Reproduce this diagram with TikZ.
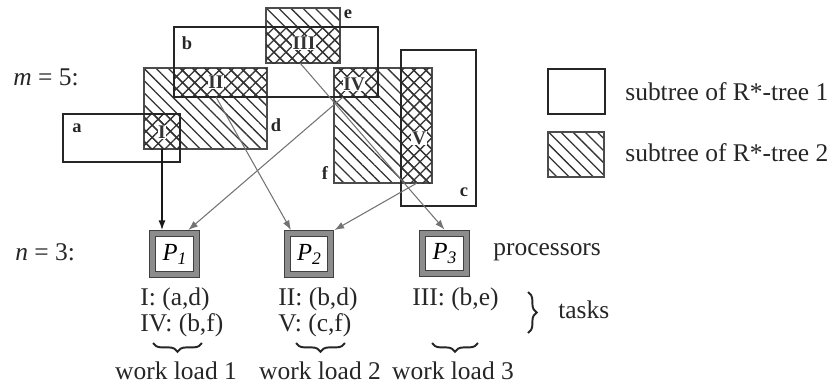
\documentclass[tikz,border=0pt]{standalone}
\usepackage{fontspec}
\setmainfont{Liberation Serif}
\usetikzlibrary{patterns.meta,decorations.pathreplacing,arrows.meta,calc}

\tikzset{
  txt/.style={font=\fontsize{14.5}{17}\selectfont, text=black!85, inner sep=0pt},
  rlabel/.style={font=\fontsize{10.5}{11}\selectfont\bfseries, text=black!85, inner sep=0pt},
  roman/.style={font=\fontsize{11}{12}\selectfont\bfseries, text=black!80, fill=white, inner sep=0.4pt},
  treeone/.style={draw=black!85, line width=1.3pt},
  treetwo/.style={draw=black!70, line width=0.6pt,
    pattern={Lines[angle=-45,distance=4.9pt,line width=0.75pt]}, pattern color=black!80},
  overlap/.style={pattern={Hatch[angle=45,distance=4.9pt,line width=0.75pt]}, pattern color=black!80},
  proc/.style={draw=black!75, line width=0.6pt, double=black!45, double distance=3pt,
    fill=white, minimum width=0.87cm, minimum height=0.81cm, inner sep=0pt, outer sep=2.1pt,
    font=\fontsize{14}{16}\selectfont\itshape},
  conn/.style={draw=black!55, line width=0.6pt, -{Latex[length=5.5pt,width=4pt]}},
  mainconn/.style={draw=black!90, line width=0.8pt, -{Latex[length=5.5pt,width=4pt]}},
  ubrace/.style={draw=black!85, line width=1.1pt, decorate, decoration={brace, mirror, amplitude=5pt}},
  rbrace/.style={draw=black!85, line width=1.1pt, decorate, decoration={brace, amplitude=5pt}}
}

\newcommand{\proclabel}[1]{P\raisebox{-0.35ex}{\fontsize{10}{10}\selectfont #1}}

\begin{document}
\begin{tikzpicture}[x=0.02cm, y=-0.02cm]
\useasboundingbox (0,0) rectangle (833,387);

% subtrees of R*-tree 2 (hatched)
\draw[treetwo] (144,68) rectangle (267,149);
\draw[treetwo] (266,8) rectangle (340,63);
\draw[treetwo] (334,68) rectangle (432,183);

% overlapping regions (cross-hatched)
\fill[overlap] (144,114) rectangle (180,149);
\fill[overlap] (174,68) rectangle (267,97);
\fill[overlap] (266,27) rectangle (340,63);
\fill[overlap] (334,68) rectangle (378,97);
\fill[overlap] (401,68) rectangle (432,183);

% subtrees of R*-tree 1 (solid frames)
\draw[treeone] (63,114) rectangle (180,162);
\draw[treeone] (174,27) rectangle (378,97);
\draw[treeone] (401,50) rectangle (476,206);

% region letters
\node[rlabel] (la) at (77,128) {a};
\node[rlabel] (lb) at (187,43) {b};
\node[rlabel] (lc) at (464,192) {c};
\node[rlabel] (ld) at (276,125) {d};
\node[rlabel] (le) at (348,14) {e};
\node[rlabel] (lf) at (325,173) {f};

% task numerals
\node[roman] (tI) at (162,132) {I};
\node[roman] (tII) at (216,82) {II};
\node[roman] (tIII) at (304,43) {III};
\node[roman] (tIV) at (354,84) {IV};
\node[roman] (tV) at (419,138) {V};

% connector start points
\coordinate (sI) at (162,149);
\coordinate (sII) at (216,97);
\coordinate (sIII) at (300,63);
\coordinate (sIV) at (343,97);
\coordinate (sV) at (417,183);

% processors
\node[proc] (P1) at (174.5,254) {\proclabel{1}};
\node[proc] (P2) at (309,254) {\proclabel{2}};
\node[proc] (P3) at (444.5,253.5) {\proclabel{3}};

% assignments
\draw[mainconn] (sI) -- (sI |- P1.north);
\draw[conn] (sIV) -- (P1.60);
\draw[conn] (sII) -- (P2.127);
\draw[conn] (sV) -- (P2.north east);
\draw[conn] (sIII) -- (P3.north);

% left-hand labels
\node[txt, anchor=west] (m) at (13,77) {\textit{m} = 5:};
\node[txt, anchor=west] (n) at (15,252) {\textit{n} = 3:};
\node[txt, anchor=west] (procs) at (493,252) {processors};

% tasks per processor
\node[txt, anchor=base west] (t1a) at (140,305) {I: (a,d)};
\node[txt, anchor=base west] (t1b) at (140,331) {IV: (b,f)};
\node[txt, anchor=base west] (t2a) at (278,305) {II: (b,d)};
\node[txt, anchor=base west] (t2b) at (278,331) {V: (c,f)};
\node[txt, anchor=base west] (t3a) at (412,305) {III: (b,e)};

\coordinate (tb1) at (528,292);
\coordinate (tb2) at (528,333);
\draw[rbrace] (tb1) -- (tb2);
\node[txt, anchor=west] (tasks) at (558,310) {tasks};

% work loads
\coordinate (w1a) at (153,343); \coordinate (w1b) at (202,343);
\coordinate (w2a) at (296,343); \coordinate (w2b) at (345,343);
\coordinate (w3a) at (432,343); \coordinate (w3b) at (478,343);
\draw[ubrace] (w1a) -- (w1b);
\draw[ubrace] (w2a) -- (w2b);
\draw[ubrace] (w3a) -- (w3b);
\node[txt, anchor=base] (wl1) at (176,379) {work load 1};
\node[txt, anchor=base] (wl2) at (320,379) {work load 2};
\node[txt, anchor=base] (wl3) at (453,379) {work load 3};

% legend
\draw[treeone] (548,69) rectangle (605,114);
\draw[treetwo] (548,132) rectangle (604,177);
\node[txt, anchor=west] (leg1) at (625,92) {subtree of R*-tree 1};
\node[txt, anchor=west] (leg2) at (625,153) {subtree of R*-tree 2};
\end{tikzpicture}
\end{document}
